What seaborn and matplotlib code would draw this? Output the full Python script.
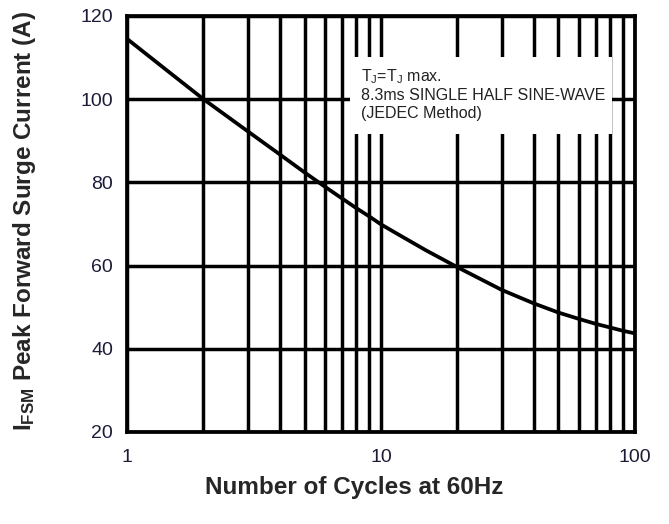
import numpy as np
import pandas as pd
import matplotlib
matplotlib.use("Agg")
import matplotlib.pyplot as plt
import seaborn as sns
from matplotlib.ticker import FixedLocator, NullFormatter
from matplotlib.patches import Rectangle

# ---- data ----
cycles = [1, 1.5, 2, 3, 4, 5, 6, 7, 8, 9, 10, 12, 15, 20, 30, 40, 50, 60, 70, 80, 90, 100]
current = [114.5, 106.0, 100.0, 92.2, 86.7, 82.4, 79.0, 76.2, 73.8, 71.8, 69.9,
           67.1, 63.7, 59.6, 54.1, 50.9, 48.7, 47.2, 46.0, 45.1, 44.3, 43.7]
x_ticks = [1, 10, 100]
x_tick_labels = ["1", "10", "100"]
y_ticks = [20, 40, 60, 80, 100, 120]
note_lines = [r"T$_\mathregular{J}$=T$_\mathregular{J}$ max.",
              "8.3ms SINGLE HALF SINE-WAVE",
              "(JEDEC Method)"]
x_label = "Number of Cycles at 60Hz"
y_label = r"I$_{\mathbf{FSM}}$ Peak Forward Surge Current (A)"

df = pd.DataFrame({"cycles": cycles, "current": current})

sns.set_style("white")
plt.rcParams["font.family"] = ["Liberation Sans", "DejaVu Sans"]
plt.rcParams["mathtext.fontset"] = "custom"
plt.rcParams["mathtext.rm"] = "Liberation Sans"
plt.rcParams["mathtext.bf"] = "Liberation Sans:bold"
plt.rcParams["mathtext.it"] = "Liberation Sans:italic"

fig = plt.figure(figsize=(6.69, 5.24), dpi=100)
ax = fig.add_axes([0.1898, 0.1756, 0.7593, 0.794])

ax.set_xscale("log")
sns.lineplot(data=df, x="cycles", y="current", ax=ax, color="black",
             linewidth=2.7, zorder=3)

ax.set_xlim(1, 100)
ax.set_ylim(20, 120)
ax.xaxis.set_major_locator(FixedLocator(x_ticks))
ax.set_xticklabels(x_tick_labels)
minor = [m * d for d in (1, 10) for m in range(2, 10)]
ax.xaxis.set_minor_locator(FixedLocator(minor))
ax.xaxis.set_minor_formatter(NullFormatter())
ax.set_yticks(y_ticks)

ax.set_axisbelow(True)
ax.grid(True, which="both", axis="x", color="black", linewidth=2.5)
ax.grid(True, which="major", axis="y", color="black", linewidth=2.5)
ax.tick_params(axis="both", which="both", length=0, labelsize=14,
               labelcolor="#1c1c38")
ax.tick_params(axis="y", pad=10)
ax.tick_params(axis="x", pad=12)
for s in ax.spines.values():
    s.set_color("black")
    s.set_linewidth(2.7)
ax.set_xlabel("")
ax.set_ylabel("")

# white box behind the note (covers grid)
ax.add_patch(Rectangle((0.439, 0.716), 0.516, 0.185, transform=ax.transAxes,
                       facecolor="white", edgecolor="none", zorder=1))
ax.text(0.461, 0.877, "\n".join(note_lines), transform=ax.transAxes,
        ha="left", va="top", fontsize=11.5, color="#222222",
        linespacing=1.2, zorder=4)

fig.text(0.53, 0.0706, x_label, fontsize=17.5, fontweight="bold",
         ha="center", va="center")
fig.text(0.037, 0.578, y_label, fontsize=17.5, fontweight="bold",
         ha="center", va="center", rotation=90)

fig.savefig("out.png", dpi=100)
